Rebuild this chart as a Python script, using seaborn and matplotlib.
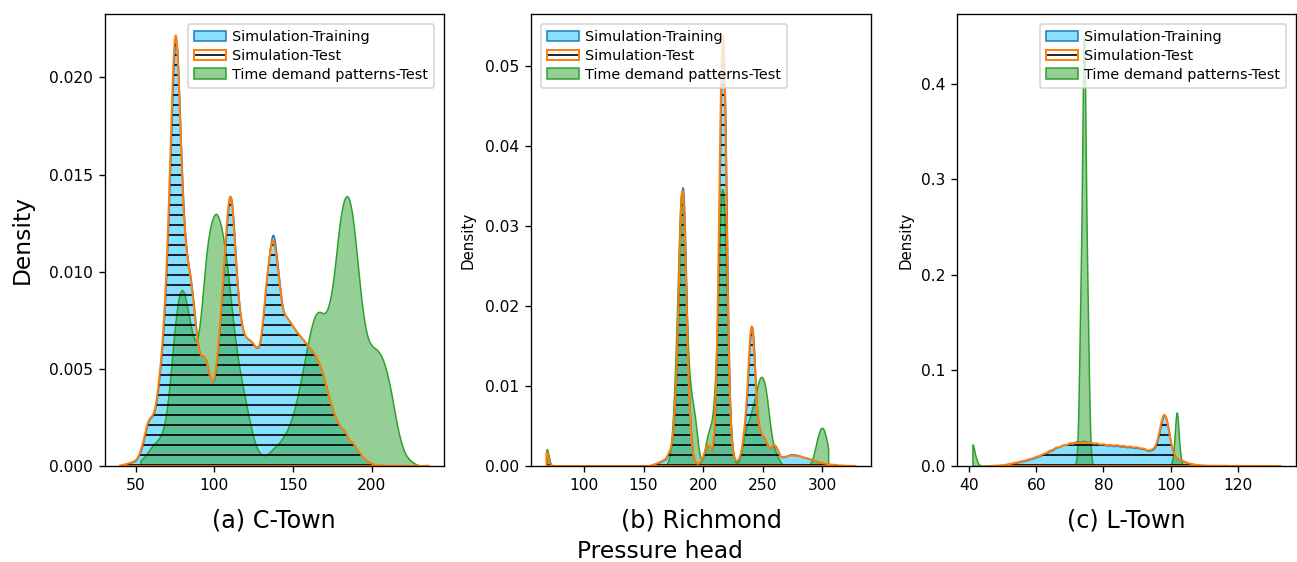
import numpy as np
import matplotlib
matplotlib.use("Agg")
import matplotlib.pyplot as plt
import seaborn as sns
from matplotlib.colors import to_rgba
from matplotlib.patches import Patch

# ---- C-Town: pressure head (m) and density ----
ct_x = [40, 44, 48, 52, 55, 58, 61, 64, 66, 68,
        70, 72, 74, 75.5, 77, 79, 81, 83, 85, 87,
        89, 91, 93, 95, 97, 99, 101, 103, 105, 107,
        109, 110.5, 112, 114, 116, 118, 120, 122, 124, 126,
        128, 130, 132, 134, 136.5, 138, 140, 142, 145, 148,
        151, 154, 157, 160, 163, 166, 169, 172, 175, 178,
        181, 184, 188, 192, 196, 200, 205, 210, 216, 222,
        228, 236]
ct_train = [0.00002, 0.0001, 0.0002, 0.0004, 0.0012, 0.0026, 0.0025, 0.0035, 0.0050, 0.0070,
            0.0102, 0.0160, 0.0222, 0.0258, 0.0215, 0.0155, 0.0112, 0.0106, 0.0100, 0.0086,
            0.0062, 0.0050, 0.0062, 0.0058, 0.0044, 0.0038, 0.0045, 0.0065, 0.0090, 0.0118,
            0.0145, 0.0152, 0.0135, 0.0098, 0.0078, 0.0068, 0.0066, 0.0066, 0.0065, 0.0062,
            0.0058, 0.0062, 0.0084, 0.0112, 0.0132, 0.0118, 0.0100, 0.0088, 0.0079, 0.0075,
            0.0071, 0.0068, 0.0065, 0.0062, 0.0059, 0.0055, 0.0048, 0.0038, 0.0029, 0.0023,
            0.0019, 0.0016, 0.0012, 0.0007, 0.0003, 0.0001, 0.00004, 0.00002, 0.00001, 0.00001,
            0.00001, 0.00001]
ct_test = [0.00002, 0.0001, 0.0002, 0.0004, 0.0012, 0.0026, 0.0025, 0.0035, 0.0050, 0.0070,
           0.0102, 0.0160, 0.0224, 0.0262, 0.0216, 0.0155, 0.0112, 0.0106, 0.0100, 0.0086,
           0.0062, 0.0050, 0.0062, 0.0058, 0.0044, 0.0038, 0.0045, 0.0065, 0.0090, 0.0118,
           0.0145, 0.0152, 0.0135, 0.0098, 0.0078, 0.0068, 0.0066, 0.0066, 0.0065, 0.0062,
           0.0058, 0.0062, 0.0082, 0.0109, 0.0128, 0.0115, 0.0099, 0.0088, 0.0079, 0.0075,
           0.0071, 0.0068, 0.0065, 0.0062, 0.0059, 0.0055, 0.0048, 0.0038, 0.0029, 0.0023,
           0.0019, 0.0016, 0.0012, 0.0007, 0.0003, 0.0001, 0.00004, 0.00002, 0.00001, 0.00001,
           0.00001, 0.00001]
ct_gx = [53, 56, 59, 62, 65, 68, 71, 74, 77, 80,
         83, 86, 89, 92, 95, 98, 101, 104, 107, 110,
         113, 116, 119, 122, 125, 128, 131, 134, 137, 140,
         143, 146, 149, 152, 155, 158, 161, 164, 167, 170,
         173, 176, 179, 182, 185, 188, 191, 194, 197, 200,
         203, 206, 209, 212, 215, 218, 221, 224, 227, 232]
ct_tdp = [0.0003, 0.0005, 0.0009, 0.0012, 0.0014, 0.0019, 0.0035, 0.0066, 0.0090, 0.0095,
          0.0082, 0.0068, 0.0060, 0.0082, 0.0115, 0.0128, 0.0134, 0.0127, 0.0113, 0.0090,
          0.0066, 0.0050, 0.0037, 0.0025, 0.0013, 0.0007, 0.0005, 0.0006, 0.0009, 0.0011,
          0.0014, 0.0018, 0.0024, 0.0033, 0.0045, 0.0058, 0.0071, 0.0080, 0.0081, 0.0078,
          0.0083, 0.0098, 0.0125, 0.0140, 0.0143, 0.0131, 0.0105, 0.0080, 0.0066, 0.0062,
          0.0061, 0.0058, 0.0051, 0.0040, 0.0025, 0.0013, 0.0006, 0.0003, 0.0001, 0.00002]

# ---- Richmond ----
rm_x = [68.5, 70, 72, 155, 158, 161, 164, 167, 170, 172,
        174, 176, 178, 180, 181.5, 183, 184.5, 186, 188, 190,
        192, 194, 196, 198, 200, 202, 204, 205.5, 207, 208.5,
        210, 212, 214, 215.5, 217, 218.5, 220, 222, 224, 226,
        228, 230, 232, 234, 236, 238, 239.5, 241, 242.5, 244,
        246, 248, 250, 252, 254, 256, 258, 260, 262, 264,
        267, 270, 273, 276, 279, 282, 285, 288, 291, 294,
        297, 300, 303, 306, 309, 312, 316, 320, 324, 328]
rm_train = [0.0050, 0.0010, 0.0, 0.0, 0.0002, 0.0004, 0.0007, 0.0010, 0.0016, 0.0024,
            0.0035, 0.0075, 0.0175, 0.0330, 0.0470, 0.0545, 0.0450, 0.0270, 0.0125, 0.0038,
            0.0010, 0.0004, 0.0003, 0.0006, 0.0015, 0.0028, 0.0042, 0.0035, 0.0020, 0.0018,
            0.0060, 0.0215, 0.0500, 0.0740, 0.0830, 0.0670, 0.0365, 0.0115, 0.0030, 0.0010,
            0.0008, 0.0009, 0.0020, 0.0048, 0.0092, 0.0155, 0.0235, 0.0275, 0.0225, 0.0130,
            0.0072, 0.0058, 0.0052, 0.0048, 0.0036, 0.0026, 0.0034, 0.0040, 0.0030, 0.0018,
            0.0015, 0.0017, 0.0020, 0.0020, 0.0019, 0.0017, 0.0015, 0.0013, 0.0011, 0.0009,
            0.0007, 0.0005, 0.0004, 0.0003, 0.0002, 0.00015, 0.0001, 0.00005, 0.00003, 0.00001]
rm_test = [0.0050, 0.0010, 0.0, 0.0, 0.0002, 0.0004, 0.0007, 0.0010, 0.0016, 0.0024,
           0.0035, 0.0075, 0.0175, 0.0326, 0.0464, 0.0536, 0.0445, 0.0268, 0.0125, 0.0038,
           0.0010, 0.0004, 0.0003, 0.0006, 0.0015, 0.0028, 0.0042, 0.0035, 0.0020, 0.0018,
           0.0060, 0.0215, 0.0505, 0.0748, 0.0840, 0.0676, 0.0365, 0.0115, 0.0030, 0.0010,
           0.0008, 0.0009, 0.0020, 0.0048, 0.0092, 0.0155, 0.0235, 0.0275, 0.0225, 0.0130,
           0.0072, 0.0058, 0.0052, 0.0048, 0.0036, 0.0026, 0.0034, 0.0040, 0.0030, 0.0018,
           0.0015, 0.0016, 0.0018, 0.0018, 0.0017, 0.0016, 0.0014, 0.0013, 0.0011, 0.0009,
           0.0007, 0.0005, 0.0004, 0.0003, 0.0002, 0.00015, 0.0001, 0.00005, 0.00003, 0.00001]
rm_gx = [68.5, 70, 72, 168, 170, 172, 174, 176, 178, 180,
         181.5, 183, 184.5, 186, 188, 190, 192, 194, 196, 198,
         200, 202, 204, 206, 208, 210, 212, 214, 215.5, 217,
         218.5, 220, 222, 224, 226, 228, 230, 232, 234, 236,
         238, 240, 242, 244, 246, 248, 250, 252, 254, 256,
         258, 260, 262, 264, 266, 268, 288, 290, 292, 294,
         296, 298, 300, 302, 304, 305]
rm_tdp = [0.0038, 0.0008, 0.0, 0.0, 0.0002, 0.0008, 0.0030, 0.0078, 0.0160, 0.0255,
          0.0305, 0.0300, 0.0238, 0.0158, 0.0102, 0.0075, 0.0063, 0.0045, 0.0018, 0.0003,
          0.0008, 0.0022, 0.0035, 0.0042, 0.0048, 0.0080, 0.0155, 0.0255, 0.0300, 0.0305,
          0.0262, 0.0162, 0.0070, 0.0022, 0.0005, 0.0002, 0.0003, 0.0015, 0.0030, 0.0040,
          0.0046, 0.0055, 0.0064, 0.0074, 0.0087, 0.0095, 0.0094, 0.0087, 0.0069, 0.0045,
          0.0027, 0.0017, 0.0011, 0.0006, 0.0002, 0.0, 0.0, 0.0002, 0.0007, 0.0018,
          0.0030, 0.0039, 0.0042, 0.0038, 0.0028, 0.0025]

# ---- L-Town ----
lt_x = [45, 48, 50, 52, 54, 56, 58, 60, 62, 64,
        66, 68, 70, 72, 74, 76, 78, 80, 82, 84,
        86, 88, 90, 92, 94, 95.5, 96.5, 97.4, 98.2, 99.0,
        99.8, 101, 102.5, 104, 106, 108, 110, 113, 116, 120,
        124, 128, 132.7]
lt_train = [0.0, 0.0003, 0.0008, 0.0020, 0.0036, 0.0052, 0.0071, 0.0095, 0.0122, 0.0159,
            0.0198, 0.0226, 0.0246, 0.0265, 0.0270, 0.0258, 0.0242, 0.0228, 0.0221, 0.0217,
            0.0210, 0.0203, 0.0195, 0.0184, 0.0170, 0.0163, 0.0260, 0.0545, 0.0765, 0.0510,
            0.0205, 0.0094, 0.0066, 0.0046, 0.0022, 0.0010, 0.0005, 0.0003, 0.0002, 0.0001,
            0.00005, 0.00003, 0.00001]
lt_test = [0.0, 0.0003, 0.0008, 0.0020, 0.0036, 0.0052, 0.0071, 0.0095, 0.0122, 0.0159,
           0.0193, 0.0216, 0.0235, 0.0245, 0.0248, 0.0245, 0.0236, 0.0226, 0.0220, 0.0217,
           0.0210, 0.0203, 0.0195, 0.0184, 0.0170, 0.0163, 0.0258, 0.0540, 0.0755, 0.0505,
           0.0205, 0.0094, 0.0066, 0.0046, 0.0022, 0.0010, 0.0005, 0.0003, 0.0002, 0.0001,
           0.00005, 0.00003, 0.00001]
lt_gx = [41, 42, 43, 44, 71.2, 72.2, 73.2, 74.2, 75.2, 76.2,
         77.2, 100.2, 101, 101.8, 102.6, 103.4]
lt_tdp = [0.023, 0.007, 0.0005, 0.0, 0.0, 0.003, 0.150, 0.440, 0.150, 0.003,
          0.0, 0.0, 0.012, 0.068, 0.012, 0.0005]

panels = [
    ("(a) C-Town", ct_x, ct_train, ct_test, ct_gx, ct_tdp, 2.0, 2.0, "upper right"),
    ("(b) Richmond", rm_x, rm_train, rm_test, rm_gx, rm_tdp, 1.5, 1.5, "upper left"),
    ("(c) L-Town", lt_x, lt_train, lt_test, lt_gx, lt_tdp, 1.0, 0.5, "upper right"),
]

train_face = to_rgba("deepskyblue", 0.47)
green_face = to_rgba("tab:green", 0.5)


def kde(ax, x, dens, h, **kws):
    # weighted KDE with a fixed bandwidth h (in pressure-head units)
    x = np.asarray(x, float)
    w = np.asarray(dens, float) * np.gradient(x)
    p = w / w.sum()
    mu = np.sum(p * x)
    var = np.sum(p * (x - mu) ** 2) / (1 - np.sum(p ** 2))
    sns.kdeplot(x=x, weights=w, bw_method=h / np.sqrt(var), cut=0,
                gridsize=1500, fill=True, ax=ax, **kws)


fig = plt.figure(figsize=(1297 / 120, 562 / 120), dpi=120)
lefts = [104.5, 531, 957]
widths = [339.5, 340, 339]
axes = [fig.add_axes([l / 1297, 96 / 562, w / 1297, 452 / 562]) for l, w in zip(lefts, widths)]

for i, (ax, (title, x, tr, te, gx, gd, h, hg, loc)) in enumerate(zip(axes, panels)):
    kde(ax, x, tr, h, color="tab:blue", facecolor=train_face, edgecolor="tab:blue", linewidth=0.9)
    kde(ax, gx, gd, hg, color="tab:green", facecolor=green_face, edgecolor="tab:green", linewidth=0.9)
    kde(ax, x, te, h, color="black", facecolor="none", edgecolor="black", linewidth=0, hatch="--")
    kde(ax, x, te, h, color="tab:orange", facecolor="none", edgecolor="tab:orange", linewidth=1.2)

    ax.tick_params(labelsize=9.3)
    ax.set_xlabel(title, fontsize=14.3, va="center")
    ax.xaxis.set_label_coords(0.5, -0.12)
    if i == 0:
        ax.set_ylabel("Density", fontsize=14, va="center")
        ax.yaxis.set_label_coords(-0.2415, 0.5)
    else:
        ax.set_ylabel("Density", fontsize=9, va="center")
        ax.yaxis.set_label_coords([0, -0.185, -0.150][i], 0.5)

    handles = [
        Patch(facecolor=train_face, edgecolor="tab:blue", linewidth=0.9),
        (Patch(facecolor="none", edgecolor="black", linewidth=0, hatch="--"),
         Patch(facecolor="none", edgecolor="tab:orange", linewidth=1.2)),
        Patch(facecolor=green_face, edgecolor="tab:green", linewidth=0.9),
    ]
    anchor = (0.993, 0.994) if loc == "upper right" else (0.007, 0.994)
    ax.legend(handles, ["Simulation-Training", "Simulation-Test", "Time demand patterns-Test"],
              loc=loc, bbox_to_anchor=anchor, fontsize=8.6, handlelength=2.2,
              handletextpad=0.45, labelspacing=0.32, borderpad=0.45)

fig.text(660 / 1297, 10 / 562, "Pressure head", fontsize=14, ha="center", va="center")

fig.savefig("out.png", dpi=120)
